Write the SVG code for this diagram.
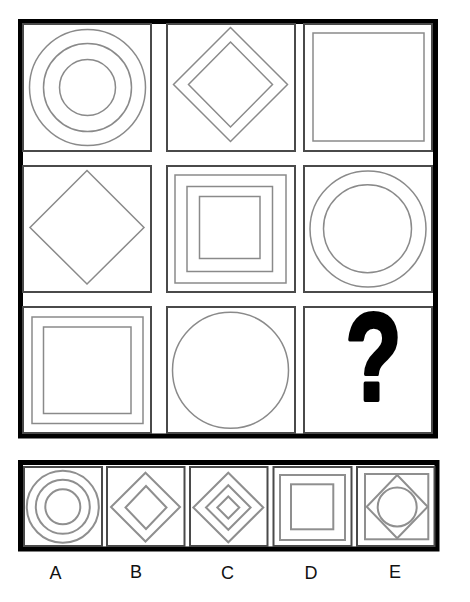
<svg xmlns="http://www.w3.org/2000/svg" width="470" height="602" viewBox="0 0 470 602">
<style>
.frame{fill:none;stroke:#000;stroke-width:5}
.cell{fill:#fff;stroke:#4a4a4a;stroke-width:2}
.sh{fill:none;stroke:#8a8a8a;stroke-width:1.5}
.ash{fill:none;stroke:#8f8f8f;stroke-width:2}
.lbl{font-family:"Liberation Sans",Arial,sans-serif;font-size:18px;fill:#111;text-anchor:middle}
.q{font-family:"Liberation Sans",Arial,sans-serif;font-weight:bold;font-size:124px;fill:#000;stroke:#000;stroke-width:4;stroke-linejoin:round;text-anchor:middle}
</style>
<rect width="470" height="602" fill="#fff"/>
<g id="matrix">
<rect class="frame" x="20.5" y="21.5" width="415" height="414.5"/>
<g id="r1c1"><rect class="cell" x="23" y="24" width="128" height="127"/>
<circle class="sh" cx="87.5" cy="87.5" r="58"/><circle class="sh" cx="87.5" cy="87.5" r="44"/><circle class="sh" cx="87.5" cy="87.5" r="28"/></g>
<g id="r1c2"><rect class="cell" x="167" y="24" width="128" height="127"/>
<polygon class="sh" points="230.5,27.5 287.5,84.5 230.5,141.5 173.5,84.5"/><polygon class="sh" points="230.5,42 272.5,84.5 230.5,127 188.5,84.5"/></g>
<g id="r1c3"><rect class="cell" x="304" y="24" width="128" height="127"/>
<rect class="sh" x="313" y="33" width="111" height="108"/></g>
<g id="r2c1"><rect class="cell" x="23" y="166" width="128" height="126"/>
<polygon class="sh" points="87,170.5 144,227.5 87,284 30,227.5"/></g>
<g id="r2c2"><rect class="cell" x="167" y="166" width="128" height="126"/>
<rect class="sh" x="175" y="175" width="111" height="108"/><rect class="sh" x="187" y="186.5" width="85.5" height="85"/><rect class="sh" x="199.5" y="196.5" width="60.5" height="62"/></g>
<g id="r2c3"><rect class="cell" x="304" y="166" width="128" height="126"/>
<circle class="sh" cx="368" cy="229" r="58"/><circle class="sh" cx="367.5" cy="228.7" r="44"/></g>
<g id="r3c1"><rect class="cell" x="23" y="307" width="128" height="126"/>
<rect class="sh" x="32" y="317" width="111" height="106.5"/><rect class="sh" x="43.5" y="327" width="87.5" height="86.5"/></g>
<g id="r3c2"><rect class="cell" x="167" y="307" width="128" height="126"/>
<circle class="sh" cx="230.5" cy="370.3" r="58"/></g>
<g id="r3c3"><rect class="cell" x="304" y="307" width="128" height="126"/>
<text class="q" transform="translate(373.5,400) scale(0.74,1)" x="0" y="0">?</text></g>
</g>
<g id="answers">
<rect class="frame" x="20.5" y="462.5" width="416.5" height="86.5"/>
<g id="A"><rect class="cell" x="24" y="467" width="78" height="79"/>
<circle class="ash" cx="62.8" cy="506.8" r="36"/><circle class="ash" cx="62.8" cy="506.8" r="27"/><circle class="ash" cx="62.8" cy="506.8" r="17.5"/></g>
<g id="B"><rect class="cell" x="107" y="467" width="77.5" height="79"/>
<polygon class="ash" points="145.5,472.7 180,507 145.5,541.5 111,507"/><polygon class="ash" points="146,486 166.5,507.5 146,529 125.5,507.5"/></g>
<g id="C"><rect class="cell" x="190" y="467" width="77.5" height="79"/>
<polygon class="ash" points="228.3,472.7 263.3,507.5 228.3,542.3 193.3,507.5"/><polygon class="ash" points="228.3,485.2 250.6,507.5 228.3,529.8 206,507.5"/><polygon class="ash" points="228.3,496.5 239.3,507.5 228.3,518.5 217.3,507.5"/></g>
<g id="D"><rect class="cell" x="273.5" y="467" width="78" height="79"/>
<rect class="ash" x="280" y="475" width="65" height="65"/><rect class="ash" x="291" y="484.3" width="42.3" height="45"/></g>
<g id="E"><rect class="cell" x="357" y="467" width="77.5" height="79"/>
<rect class="ash" x="365" y="474" width="63.3" height="65.3"/><polygon class="ash" points="397.2,475 427.7,506.7 397.2,538.3 366.7,506.7"/><circle class="ash" cx="397.2" cy="507" r="19.5"/></g>
</g>
<g id="labels">
<text class="lbl" x="55.5" y="579">A</text>
<text class="lbl" x="136" y="578">B</text>
<text class="lbl" x="227.5" y="579">C</text>
<text class="lbl" x="311" y="579">D</text>
<text class="lbl" x="395" y="578">E</text>
</g>
</svg>
